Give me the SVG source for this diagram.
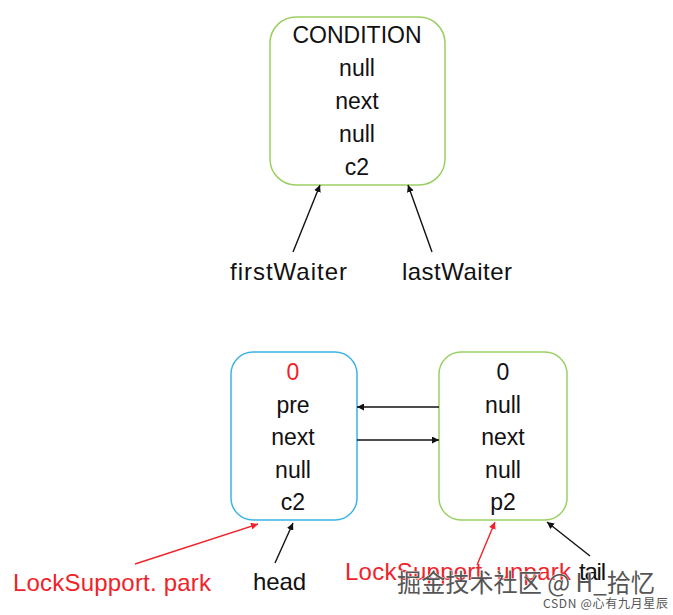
<svg xmlns="http://www.w3.org/2000/svg" width="673" height="615" viewBox="0 0 673 615">
<style>
.t{font-family:"Liberation Sans",Arial,sans-serif;font-size:23px;fill:#111;text-anchor:middle}
.lb{font-family:"Liberation Sans",Arial,sans-serif;font-size:24px;fill:#111}
.red{fill:#f0232a}
.box{fill:#fff;stroke-width:1.5}
.g{stroke:#9bcf62}
.b{stroke:#3db4e6}
.ln{stroke:#111;stroke-width:1.4;fill:none}
.rl{stroke:#f0232a;stroke-width:1.4;fill:none}
.wm{font-family:"Noto Sans CJK SC","Liberation Sans",sans-serif;fill:#555;stroke:#fff;stroke-width:0.8;paint-order:stroke}
</style>
<defs>
<marker id="ah" viewBox="0 0 10 10" refX="10" refY="5" markerWidth="7" markerHeight="7" orient="auto" markerUnits="userSpaceOnUse"><path d="M0,0 L10,5 L0,10 z" fill="#111"/></marker>
<marker id="ahr" viewBox="0 0 10 10" refX="10" refY="5" markerWidth="7" markerHeight="7" orient="auto" markerUnits="userSpaceOnUse"><path d="M0,0 L10,5 L0,10 z" fill="#f0232a"/></marker>
</defs>
<rect width="673" height="615" fill="#fff"/>
<g id="condition">
<rect class="box g" x="270" y="17" width="175" height="168" rx="26"/>
<text class="t" x="357" y="43">CONDITION</text>
<text class="t" x="357" y="76">null</text>
<text class="t" x="357" y="109">next</text>
<text class="t" x="357" y="142">null</text>
<text class="t" x="357" y="175">c2</text>
</g>
<g id="node-head">
<rect class="box b" x="231" y="352" width="126" height="168" rx="22"/>
<text class="t red" x="293" y="380">0</text>
<text class="t" x="293" y="413">pre</text>
<text class="t" x="293" y="445">next</text>
<text class="t" x="293" y="478">null</text>
<text class="t" x="293" y="510">c2</text>
</g>
<g id="node-tail">
<rect class="box g" x="439" y="352" width="128" height="168" rx="22"/>
<text class="t" x="503" y="380">0</text>
<text class="t" x="503" y="413">null</text>
<text class="t" x="503" y="445">next</text>
<text class="t" x="503" y="478">null</text>
<text class="t" x="503" y="510">p2</text>
</g>
<g id="labels">
<text class="lb" x="230" y="280" textLength="117">firstWaiter</text>
<text class="lb" x="402" y="280" textLength="110">lastWaiter</text>
<text class="lb red" x="13" y="591" textLength="198">LockSupport. park</text>
<text class="lb" x="253" y="590" textLength="53">head</text>
<text class="lb red" x="345" y="580" textLength="226">LockSupport. unpark</text>
<text class="lb" x="579" y="580" textLength="27">tail</text>
</g>
<g id="connectors">
<line class="ln" x1="293" y1="252" x2="320" y2="185" marker-end="url(#ah)"/>
<line class="ln" x1="432" y1="252" x2="408" y2="185" marker-end="url(#ah)"/>
<line class="ln" x1="439" y1="407" x2="357" y2="407" marker-end="url(#ah)"/>
<line class="ln" x1="357" y1="440" x2="439" y2="440" marker-end="url(#ah)"/>
<line class="rl" x1="135" y1="564" x2="258" y2="524" marker-end="url(#ahr)"/>
<line class="ln" x1="275" y1="563" x2="293" y2="523" marker-end="url(#ah)"/>
<line class="rl" x1="477" y1="565" x2="495" y2="522" marker-end="url(#ahr)"/>
<line class="ln" x1="590" y1="556" x2="547" y2="522" marker-end="url(#ah)"/>
</g>
<g id="watermark">
<text class="wm" x="397" y="592" font-size="25" textLength="258" lengthAdjust="spacingAndGlyphs">掘金技术社区 @ H_拾忆</text>
<text class="wm" x="543" y="608" font-size="12" fill="#999" stroke="none" textLength="125">CSDN @心有九月星辰</text>
</g>
</svg>
